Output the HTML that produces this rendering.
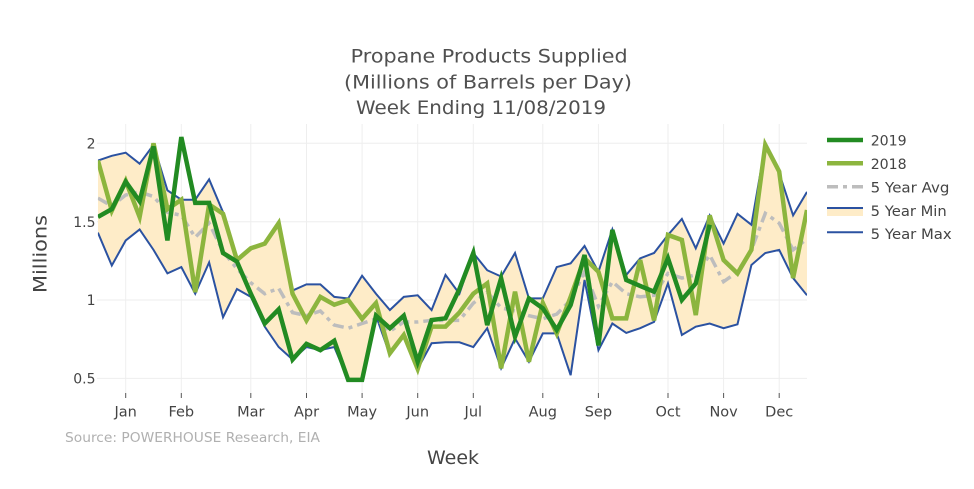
<!DOCTYPE html>
<html><head><meta charset="utf-8"><style>
html,body{margin:0;padding:0;background:#fff;}
svg{display:block;font-family:"DejaVu Sans","Liberation Sans",sans-serif;}
</style></head><body>
<svg width="974" height="489" viewBox="0 0 974 489" xmlns="http://www.w3.org/2000/svg">
<rect width="974" height="489" fill="#fff"/>
<defs><clipPath id="pa"><rect x="97.9" y="122" width="709.1" height="271"/></clipPath></defs>
<!-- grid -->
<g stroke="#eeeeee" stroke-width="1">
<line x1="125.7" y1="124" x2="125.7" y2="393"/><line x1="181.3" y1="124" x2="181.3" y2="393"/>
<line x1="250.8" y1="124" x2="250.8" y2="393"/><line x1="306.5" y1="124" x2="306.5" y2="393"/>
<line x1="362.1" y1="124" x2="362.1" y2="393"/><line x1="417.7" y1="124" x2="417.7" y2="393"/>
<line x1="473.3" y1="124" x2="473.3" y2="393"/><line x1="542.8" y1="124" x2="542.8" y2="393"/>
<line x1="598.4" y1="124" x2="598.4" y2="393"/><line x1="668" y1="124" x2="668" y2="393"/>
<line x1="723.6" y1="124" x2="723.6" y2="393"/><line x1="779.2" y1="124" x2="779.2" y2="393"/>
<line x1="97" y1="143.3" x2="807" y2="143.3"/><line x1="97" y1="221.7" x2="807" y2="221.7"/>
<line x1="97" y1="300" x2="807" y2="300"/><line x1="97" y1="378.4" x2="807" y2="378.4"/>
</g>
<!-- ticks -->
<g stroke="#555" stroke-width="1">
<line x1="125.7" y1="393" x2="125.7" y2="398"/><line x1="181.3" y1="393" x2="181.3" y2="398"/>
<line x1="250.8" y1="393" x2="250.8" y2="398"/><line x1="306.5" y1="393" x2="306.5" y2="398"/>
<line x1="362.1" y1="393" x2="362.1" y2="398"/><line x1="417.7" y1="393" x2="417.7" y2="398"/>
<line x1="473.3" y1="393" x2="473.3" y2="398"/><line x1="542.8" y1="393" x2="542.8" y2="398"/>
<line x1="598.4" y1="393" x2="598.4" y2="398"/><line x1="668" y1="393" x2="668" y2="398"/>
<line x1="723.6" y1="393" x2="723.6" y2="398"/><line x1="779.2" y1="393" x2="779.2" y2="398"/>
</g>
<g clip-path="url(#pa)">
<g transform="translate(97.9,456.7) scale(13.904,-156.7)">
<polygon fill="#feecc8" stroke="none" points="0,1.89 1,1.92 2,1.94 3,1.87 4,1.99 5,1.70 6,1.64 7,1.64 8,1.77 9,1.56 10,1.26 11,1.33 12,1.36 13,1.49 14,1.06 15,1.10 16,1.10 17,1.02 18,1.01 19,1.155 20,1.04 21,0.936 22,1.02 23,1.03 24,0.936 25,1.16 26,1.04 27,1.30 28,1.19 29,1.15 30,1.30 31,1.01 32,1.01 33,1.21 34,1.234 35,1.345 36,1.18 37,1.45 38,1.16 39,1.266 40,1.30 41,1.415 42,1.517 43,1.33 44,1.54 45,1.36 46,1.55 47,1.48 48,1.99 49,1.81 50,1.54 51,1.69 51,1.03 50,1.14 49,1.32 48,1.30 47,1.223 46,0.845 45,0.82 44,0.85 43,0.83 42,0.777 41,1.106 40,0.86 39,0.82 38,0.79 37,0.85 36,0.68 35,1.128 34,0.52 33,0.787 32,0.787 31,0.606 30,0.755 29,0.564 28,0.82 27,0.70 26,0.73 25,0.73 24,0.724 23,0.56 22,0.777 21,0.65 20,0.90 19,0.49 18,0.49 17,0.70 16,0.68 15,0.70 14,0.62 13,0.70 12,0.83 11,1.02 10,1.07 9,0.89 8,1.24 7,1.04 6,1.21 5,1.17 4,1.32 3,1.45 2,1.38 1,1.22 0,1.43"/>
<g fill="none" vector-effect="non-scaling-stroke">
<polyline vector-effect="non-scaling-stroke" stroke="#2b52a1" stroke-width="2" points="0,1.89 1,1.92 2,1.94 3,1.87 4,1.99 5,1.70 6,1.64 7,1.64 8,1.77 9,1.56 10,1.26 11,1.33 12,1.36 13,1.49 14,1.06 15,1.10 16,1.10 17,1.02 18,1.01 19,1.155 20,1.04 21,0.936 22,1.02 23,1.03 24,0.936 25,1.16 26,1.04 27,1.30 28,1.19 29,1.15 30,1.30 31,1.01 32,1.01 33,1.21 34,1.234 35,1.345 36,1.18 37,1.45 38,1.16 39,1.266 40,1.30 41,1.415 42,1.517 43,1.33 44,1.54 45,1.36 46,1.55 47,1.48 48,1.99 49,1.81 50,1.54 51,1.69"/>
<polyline vector-effect="non-scaling-stroke" stroke="#2b52a1" stroke-width="2" points="0,1.43 1,1.22 2,1.38 3,1.45 4,1.32 5,1.17 6,1.21 7,1.04 8,1.24 9,0.89 10,1.07 11,1.02 12,0.83 13,0.70 14,0.62 15,0.70 16,0.68 17,0.70 18,0.49 19,0.49 20,0.90 21,0.65 22,0.777 23,0.56 24,0.724 25,0.73 26,0.73 27,0.70 28,0.82 29,0.564 30,0.755 31,0.606 32,0.787 33,0.787 34,0.52 35,1.128 36,0.68 37,0.85 38,0.79 39,0.82 40,0.86 41,1.106 42,0.777 43,0.83 44,0.85 45,0.82 46,0.845 47,1.223 48,1.30 49,1.32 50,1.14 51,1.03"/>
<polyline vector-effect="non-scaling-stroke" stroke="#bdbdbd" stroke-width="3.5" stroke-dasharray="11,5,4,5" points="0,1.65 1,1.60 2,1.67 3,1.69 4,1.66 5,1.56 6,1.54 7,1.40 8,1.49 9,1.31 10,1.20 11,1.11 12,1.04 13,1.075 14,0.92 15,0.90 16,0.93 17,0.84 18,0.82 19,0.85 20,0.88 21,0.80 22,0.86 23,0.86 24,0.87 25,0.87 26,0.87 27,0.98 28,1.05 29,0.95 30,0.93 31,0.90 32,0.88 33,0.91 34,1.0 35,1.18 36,0.96 37,1.117 38,1.04 39,1.02 40,1.03 41,1.17 42,1.14 43,1.16 44,1.287 45,1.117 46,1.18 47,1.32 48,1.553 49,1.49 50,1.32 51,1.39"/>
<polyline vector-effect="non-scaling-stroke" stroke="#8cb53e" stroke-width="4.5" points="0,1.89 1,1.57 2,1.76 3,1.53 4,2.00 5,1.58 6,1.64 7,1.05 8,1.61 9,1.55 10,1.255 11,1.33 12,1.36 13,1.49 14,1.04 15,0.87 16,1.02 17,0.97 18,1.00 19,0.88 20,0.98 21,0.66 22,0.777 23,0.56 24,0.83 25,0.83 26,0.92 27,1.04 28,1.106 29,0.564 30,1.053 31,0.606 32,0.98 33,0.787 34,1.02 35,1.266 36,1.18 37,0.883 38,0.883 39,1.255 40,0.87 41,1.415 42,1.383 43,0.904 44,1.54 45,1.255 46,1.17 47,1.32 48,1.99 49,1.82 50,1.14 51,1.574"/>
<polyline vector-effect="non-scaling-stroke" stroke="#228b22" stroke-width="4.5" points="0,1.53 1,1.58 2,1.755 3,1.63 4,1.98 5,1.38 6,2.04 7,1.62 8,1.62 9,1.30 10,1.245 11,1.04 12,0.85 13,0.94 14,0.62 15,0.72 16,0.68 17,0.74 18,0.49 19,0.49 20,0.90 21,0.82 22,0.90 23,0.606 24,0.872 25,0.883 26,1.07 27,1.30 28,0.84 29,1.138 30,0.766 31,1.01 32,0.947 33,0.81 34,0.968 35,1.287 36,0.71 37,1.447 38,1.128 39,1.09 40,1.053 41,1.266 42,1.0 43,1.106 44,1.48"/>
</g>
</g>
</g>
<!-- y tick labels -->
<g fill="#444" font-size="14" text-anchor="end">
<text x="95.5" y="148.5">2</text>
<text x="95.5" y="226.8">1.5</text>
<text x="95.5" y="305.1">1</text>
<text x="95.5" y="383.5">0.5</text>
</g>
<!-- x tick labels -->
<g fill="#444" font-size="14.5" text-anchor="middle">
<text x="125.7" y="416.5">Jan</text><text x="181.3" y="416.5">Feb</text>
<text x="250.8" y="416.5">Mar</text><text x="306.5" y="416.5">Apr</text>
<text x="362.1" y="416.5">May</text><text x="417.7" y="416.5">Jun</text>
<text x="473.3" y="416.5">Jul</text><text x="542.8" y="416.5">Aug</text>
<text x="598.4" y="416.5">Sep</text><text x="668" y="416.5">Oct</text>
<text x="723.6" y="416.5">Nov</text><text x="779.2" y="416.5">Dec</text>
</g>
<!-- title -->
<g fill="#505050" font-size="19">
<text x="350.7" y="62.3" textLength="277" lengthAdjust="spacingAndGlyphs">Propane Products Supplied</text>
<text x="344" y="88.3" textLength="288" lengthAdjust="spacingAndGlyphs">(Millions of Barrels per Day)</text>
<text x="356" y="114.2" textLength="250" lengthAdjust="spacingAndGlyphs">Week Ending 11/08/2019</text>
</g>
<!-- axis titles -->
<text x="427" y="464" fill="#444" font-size="19" textLength="52" lengthAdjust="spacingAndGlyphs">Week</text>
<text transform="translate(46.5,254) rotate(-90)" fill="#444" font-size="19" text-anchor="middle" textLength="78" lengthAdjust="spacingAndGlyphs">Millions</text>
<text x="65" y="442" fill="#b0b0b0" font-size="13" textLength="255" lengthAdjust="spacingAndGlyphs">Source: POWERHOUSE Research, EIA</text>
<!-- legend -->
<g>
<line x1="827" y1="140" x2="863" y2="140" stroke="#228b22" stroke-width="4.5"/>
<line x1="827" y1="163.3" x2="863" y2="163.3" stroke="#8cb53e" stroke-width="4.5"/>
<line x1="827" y1="186.7" x2="863" y2="186.7" stroke="#bdbdbd" stroke-width="3.5" stroke-dasharray="11,5,4,5"/>
<rect x="827" y="208" width="36" height="8" fill="#feecc8"/>
<line x1="827" y1="208" x2="863" y2="208" stroke="#2b52a1" stroke-width="2"/>
<line x1="827" y1="232.3" x2="863" y2="232.3" stroke="#2b52a1" stroke-width="2"/>
</g>
<g fill="#444" font-size="14.5">
<text x="870.7" y="145.7" textLength="36" lengthAdjust="spacingAndGlyphs">2019</text>
<text x="870.7" y="169" textLength="36" lengthAdjust="spacingAndGlyphs">2018</text>
<text x="870.7" y="192.4" textLength="78.7" lengthAdjust="spacingAndGlyphs">5 Year Avg</text>
<text x="870.7" y="215.8" textLength="76" lengthAdjust="spacingAndGlyphs">5 Year Min</text>
<text x="870.7" y="239.2" textLength="81" lengthAdjust="spacingAndGlyphs">5 Year Max</text>
</g>
</svg>
</body></html>
